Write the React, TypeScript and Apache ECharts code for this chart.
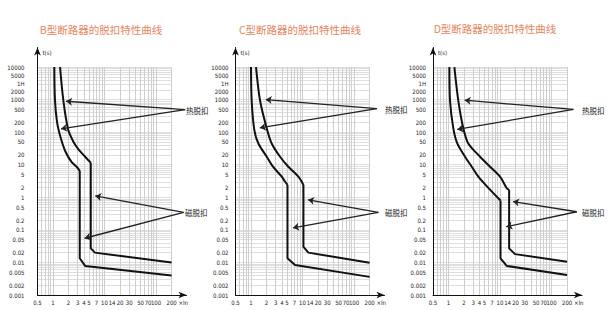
import React, { useEffect, useRef } from "react";
import * as echarts from "echarts";

// ---------- data ----------
const xTicks = [0.5, 1, 2, 3, 4, 5, 7, 10, 14, 20, 30, 50, 70, 100, 200];
const yTicks = [0.001, 0.002, 0.005, 0.01, 0.02, 0.05, 0.1, 0.2, 0.5, 1, 2, 5, 10, 20, 50, 100, 200, 500, 1000, 2000, 3600, 5000, 10000];
const yTickLabels = ["0.001", "0.002", "0.005", "0.01", "0.02", "0.05", "0.1", "0.2", "0.5", "1", "2", "5", "10", "20", "50", "100", "200", "500", "1000", "2000", "1H", "5000", "10000"];

const panelTitles = ["B型断路器的脱扣特性曲线", "C型断路器的脱扣特性曲线", "D型断路器的脱扣特性曲线"];
const thermalLabel = "热脱扣";
const magneticLabel = "磁脱扣";
const yAxisName = "t(s)";
const xAxisName = "×In";

// grid paper lines
const gridMultipliers = [1, 2, 3, 4, 5, 6, 7, 8, 9];
const gridXValues = [0.5, 0.6, 0.7, 0.8, 0.9, 1, 2, 3, 4, 5, 6, 7, 8, 9, 10, 20, 30, 40, 50, 60, 70, 80, 90, 100, 200];
const gridYDecades = [0.001, 0.01, 0.1, 1, 10, 100, 1000];

// curves: [multiple of In, seconds]
const bLowerThermal = [[1.06, 10000], [1.09, 1000], [1.2, 200], [1.4, 70], [1.75, 25], [2.3, 12], [2.9, 8.5], [3.3, 6.5]];
const bLowerMagnetic = [[3.3, 6.5], [3.3, 0.0134], [4.2, 0.0078], [200, 0.004]];
const bUpperThermal = [[1.37, 10000], [1.58, 1000], [1.96, 122], [2.5, 50], [3.2, 28], [3.9, 20], [4.8, 14], [5.4, 11.5]];
const bUpperMagnetic = [[5.4, 11.5], [5.4, 0.027], [6.5, 0.02], [200, 0.01]];

const cLowerThermal = [[1.0, 10000], [1.03, 920], [1.16, 116], [1.39, 45], [2.02, 17.6], [2.67, 8.7], [3.95, 4.3], [4.6, 3.0], [5.1, 2.4]];
const cLowerMagnetic = [[5.1, 2.4], [5.1, 0.0134], [7.15, 0.0083], [200, 0.0036]];
const cUpperThermal = [[1.25, 10000], [1.5, 920], [2.02, 131], [2.52, 45], [3.66, 17.6], [5.3, 8.7], [8.3, 4.3], [10.4, 2.4]];
const cUpperMagnetic = [[10.4, 2.4], [10.4, 0.03], [13, 0.02], [200, 0.0098]];

const dLowerThermal = [[1.04, 10000], [1.07, 920], [1.24, 131], [1.48, 45], [2.09, 17.6], [2.82, 8.7], [3.79, 4.3], [5.67, 2.1], [10.2, 0.8]];
const dLowerMagnetic = [[10.2, 0.8], [10.2, 0.0134], [13.5, 0.0078], [200, 0.0041]];
const dUpperThermal = [[1.3, 10000], [1.55, 920], [1.94, 131], [2.42, 45], [4.09, 17.6], [6.4, 8.7], [10, 4.3], [13.5, 1.9], [15, 1.7]];
const dUpperMagnetic = [[15, 1.7], [15, 0.027], [19.5, 0.018], [200, 0.0105]];

// annotation arrows: [start, tip] in [multiple of In, seconds]
const bThermalArrows = [[[366, 495], [1.79, 891]], [[366, 495], [1.43, 127]]];
const bMagneticArrows = [[[342, 0.346], [6.6, 1.1]], [[342, 0.346], [4.11, 0.0553]]];
const cThermalArrows = [[[276, 525], [1.93, 1004]], [[276, 525], [1.48, 136]]];
const cMagneticArrows = [[[296, 0.346], [12.8, 0.84]], [[296, 0.346], [6.54, 0.116]]];
const dThermalArrows = [[[265, 502], [2.06, 957]], [[265, 502], [1.48, 121]]];
const dMagneticArrows = [[[308, 0.36], [17.9, 0.74]], [[308, 0.36], [13.2, 0.125]]];

const panels = [
  { curves: [bLowerThermal, bLowerMagnetic, bUpperThermal, bUpperMagnetic], arrows: [...bThermalArrows, ...bMagneticArrows] },
  { curves: [cLowerThermal, cLowerMagnetic, cUpperThermal, cUpperMagnetic], arrows: [...cThermalArrows, ...cMagneticArrows] },
  { curves: [dLowerThermal, dLowerMagnetic, dUpperThermal, dUpperMagnetic], arrows: [...dThermalArrows, ...dMagneticArrows] },
];

// ---------- layout ----------
const panelLeft = [37.5, 235.5, 433];
const panelLabelMargin = [13, 7, 7];
const GRID_TOP = 47.5;
const GRID_H = 247.5;
const GRID_W = 149;
const titlePos = [[101, 29], [300, 29], [495, 28]];
const thermalPos = [[186, 110], [385, 109.5], [582, 110]];
const magneticPos = [[185, 212.5], [385, 212.5], [582, 212.5]];

const L = (v: number) => Math.log10(v);
const X_MIN = L(0.5);
const X_END = L(200);
const X_MAX = 2.59;
const Y_MIN = -3;
const Y_END = 4;
const Y_MAX = 4.6;

const toLog = (pts: number[][]) => pts.map(([x, y]) => [L(x), L(y)]);

function nearestLabel(ticks: number[], labels: string[], v: number) {
  let best = 0;
  let d = Infinity;
  ticks.forEach((t, i) => {
    const dd = Math.abs(L(t) - v);
    if (dd < d) {
      d = dd;
      best = i;
    }
  });
  return labels[best];
}

const LABEL_FONT = "'Liberation Sans Narrow', 'DejaVu Sans Condensed', sans-serif";
const CJK_FONT = "'Noto Sans CJK SC', sans-serif";
const LABEL_SIZE = 6;

function buildOption() {
  const grid: any[] = [];
  const xAxis: any[] = [];
  const yAxis: any[] = [];
  const series: any[] = [];
  const graphic: any[] = [];

  const gridLines: any[] = [];
  gridXValues.forEach((v) => {
    gridLines.push([{ coord: [L(v), Y_MIN] }, { coord: [L(v), Y_END] }]);
  });
  gridYDecades.forEach((dec) => {
    gridMultipliers.forEach((m) => {
      const v = L(m * dec);
      gridLines.push([{ coord: [X_MIN, v], lineStyle: { color: "#d0d0d0" } }, { coord: [X_END, v] }]);
    });
  });
  gridLines.push([{ coord: [X_MIN, Y_END], lineStyle: { color: "#d0d0d0" } }, { coord: [X_END, Y_END] }]);

  const labelStyle = { fontSize: LABEL_SIZE, fontFamily: LABEL_FONT, color: "#222" };

  panels.forEach((p, i) => {
    grid.push({ left: panelLeft[i], top: GRID_TOP, width: GRID_W, height: GRID_H, containLabel: false });
    xAxis.push({
      type: "value",
      gridIndex: i,
      min: X_MIN,
      max: X_MAX,
      splitLine: { show: false },
      axisTick: { show: false },
      axisLine: { onZero: false, symbol: ["none", "arrow"], symbolSize: [5, 8], lineStyle: { color: "#111", width: 1 } },
      axisLabel: {
        customValues: xTicks.map(L),
        formatter: (v: number) => nearestLabel(xTicks, xTicks.map(String), v),
        ...labelStyle,
        margin: 4,
      },
      z: 20,
    });
    yAxis.push({
      type: "value",
      gridIndex: i,
      min: Y_MIN,
      max: Y_MAX,
      splitLine: { show: false },
      axisTick: { show: false },
      axisLine: { onZero: false, symbol: ["none", "arrow"], symbolSize: [5, 8], lineStyle: { color: "#111", width: 1 } },
      axisLabel: {
        customValues: yTicks.map(L),
        formatter: (v: number) => {
          const s = nearestLabel(yTicks, yTickLabels, v);
          if (s === "5000") return "{u|" + s + "}";
          if (s === "1H") return "{d|" + s + "}";
          if (s === "2000") return "{d2|" + s + "}";
          return s;
        },
        rich: {
          u: { padding: [0, 0, 2, 0], ...labelStyle },
          d: { padding: [5, 0, 0, 0], ...labelStyle },
          d2: { padding: [4, 0, 0, 0], ...labelStyle },
        },
        ...labelStyle,
        margin: panelLabelMargin[i],
      },
      z: 20,
    });

    // grid paper
    series.push({
      type: "line",
      xAxisIndex: i,
      yAxisIndex: i,
      data: [[X_MIN, Y_MIN]],
      showSymbol: false,
      symbol: "none",
      lineStyle: { width: 0, opacity: 0 },
      silent: true,
      z: 1,
      markLine: {
        z: 1,
        silent: true,
        symbol: ["none", "none"],
        label: { show: false },
        emphasis: { disabled: true },
        lineStyle: { color: "#bababa", width: 0.7, type: "solid" },
        data: gridLines,
      },
    });

    // curves
    p.curves.forEach((c, k) => {
      series.push({
        type: "line",
        xAxisIndex: i,
        yAxisIndex: i,
        data: toLog(c),
        showSymbol: false,
        symbol: "none",
        smooth: k % 2 === 0 ? 0.3 : false,
        lineStyle: { color: "#111", width: 2 },
        silent: true,
        z: 10,
      });
    });

    // arrows
    series.push({
      type: "line",
      xAxisIndex: i,
      yAxisIndex: i,
      data: [[X_MIN, Y_MIN]],
      showSymbol: false,
      symbol: "none",
      lineStyle: { width: 0, opacity: 0 },
      silent: true,
      z: 11,
      markLine: {
        z: 12,
        silent: true,
        symbol: ["none", "arrow"],
        symbolSize: 6,
        label: { show: false },
        emphasis: { disabled: true },
        lineStyle: { color: "#222", width: 1.3, type: "solid" },
        data: p.arrows.map(([s, t]) => [{ coord: [L(s[0]), L(s[1])] }, { coord: [L(t[0]), L(t[1])] }]),
      },
    });

    graphic.push({
      type: "text",
      x: titlePos[i][0],
      y: titlePos[i][1],
      style: { text: panelTitles[i], fill: "#e8845c", fontSize: 10.5, fontFamily: CJK_FONT, align: "center", verticalAlign: "middle" },
    });
    graphic.push({
      type: "text",
      x: panelLeft[i] + 5,
      y: 52,
      style: { text: yAxisName, fill: "#222", fontSize: LABEL_SIZE, fontFamily: LABEL_FONT, align: "left", verticalAlign: "middle" },
    });
    graphic.push({
      type: "text",
      x: panelLeft[i] + 141,
      y: 302.5,
      style: { text: xAxisName, fill: "#222", fontSize: LABEL_SIZE, fontFamily: LABEL_FONT, align: "left", verticalAlign: "middle" },
    });
    graphic.push({
      type: "text",
      x: thermalPos[i][0],
      y: thermalPos[i][1],
      style: { text: thermalLabel, fill: "#222", fontSize: 7.5, fontFamily: CJK_FONT, align: "left", verticalAlign: "middle" },
    });
    graphic.push({
      type: "text",
      x: magneticPos[i][0],
      y: magneticPos[i][1],
      style: { text: magneticLabel, fill: "#222", fontSize: 7.5, fontFamily: CJK_FONT, align: "left", verticalAlign: "middle" },
    });
  });

  return { animation: false, backgroundColor: "#ffffff", grid, xAxis, yAxis, series, graphic };
}

export default function App() {
  const ref = useRef<HTMLDivElement>(null);
  useEffect(() => {
    if (!ref.current) return;
    const chart = echarts.init(ref.current, undefined, { renderer: "svg" });
    chart.setOption(buildOption() as any);
    return () => chart.dispose();
  }, []);
  return <div ref={ref} style={{ position: "absolute", left: 0, top: 0, width: 614, height: 310, background: "#fff" }} />;
}
